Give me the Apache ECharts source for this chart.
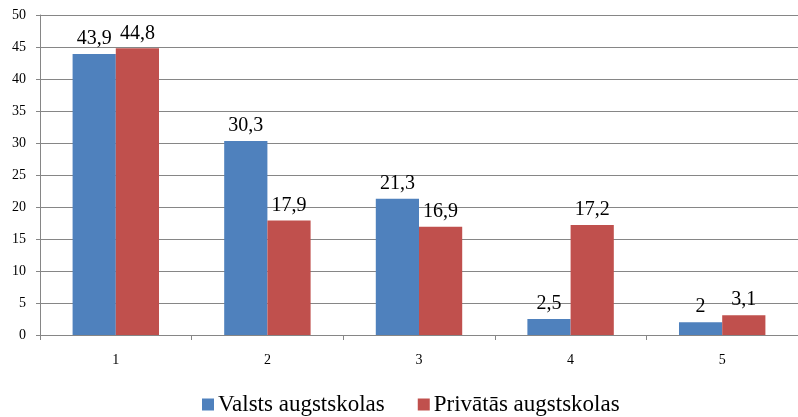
<!DOCTYPE html>
<html>
<head>
<meta charset="utf-8">
<script src="https://cdn.jsdelivr.net/npm/echarts@6/dist/echarts.min.js"></script>
<style>
html,body{margin:0;padding:0;background:#fff;}
#chart{width:798px;height:417px;}
</style>
</head>
<body>
<div id="chart"></div>
<script>
const categories = ['1', '2', '3', '4', '5'];
const seriesNames = ['Valsts augstskolas', 'Privātās augstskolas'];
const valstsValues = [43.9, 30.3, 21.3, 2.5, 2];
const privatasValues = [44.8, 17.9, 16.9, 17.2, 3.1];
const yTicks = [0, 5, 10, 15, 20, 25, 30, 35, 40, 45, 50];

const serif = 'Times New Roman';
const fmt = p => String(p.value).replace('.', ',');

const chart = echarts.init(document.getElementById('chart'), null, {renderer: 'canvas'});
chart.setOption({
  animation: false,
  backgroundColor: '#ffffff',
  grid: {left: 40, right: -5, top: 15, bottom: 82, containLabel: false},
  legend: {
    data: seriesNames,
    bottom: 1,
    left: 202,
    padding: 0,
    itemWidth: 12,
    itemHeight: 12,
    itemGap: 33,
    icon: 'rect',
    textStyle: {fontFamily: serif, fontSize: 23, color: '#000', padding: [0, 0, 0, -1]}
  },
  xAxis: {
    type: 'category',
    data: categories,
    axisLine: {lineStyle: {color: '#868686', width: 1}},
    axisTick: {show: true, length: 5, lineStyle: {color: '#868686'}},
    axisLabel: {fontFamily: serif, fontSize: 14, color: '#000', margin: 18},
    splitLine: {show: false}
  },
  yAxis: {
    type: 'value',
    min: yTicks[0],
    max: yTicks[yTicks.length - 1],
    interval: 5,
    axisLine: {show: true, lineStyle: {color: '#868686', width: 1}},
    axisTick: {show: true, length: 4, inside: false, lineStyle: {color: '#868686'}},
    axisLabel: {fontFamily: serif, fontSize: 14, color: '#000', margin: 14},
    splitLine: {show: true, lineStyle: {color: '#868686', width: 1}}
  },
  series: [
    {
      name: seriesNames[0],
      type: 'bar',
      data: valstsValues,
      barGap: '0%',
      barCategoryGap: '43%',
      itemStyle: {color: '#4F81BD'},
      label: {show: true, position: 'top', distance: 5, formatter: fmt,
        fontFamily: serif, fontSize: 20, color: '#000'}
    },
    {
      name: seriesNames[1],
      type: 'bar',
      data: privatasValues,
      barGap: '0%',
      barCategoryGap: '43%',
      itemStyle: {color: '#C0504D'},
      label: {show: true, position: 'top', distance: 5, formatter: fmt,
        fontFamily: serif, fontSize: 20, color: '#000'}
    }
  ]
});
</script>
</body>
</html>
